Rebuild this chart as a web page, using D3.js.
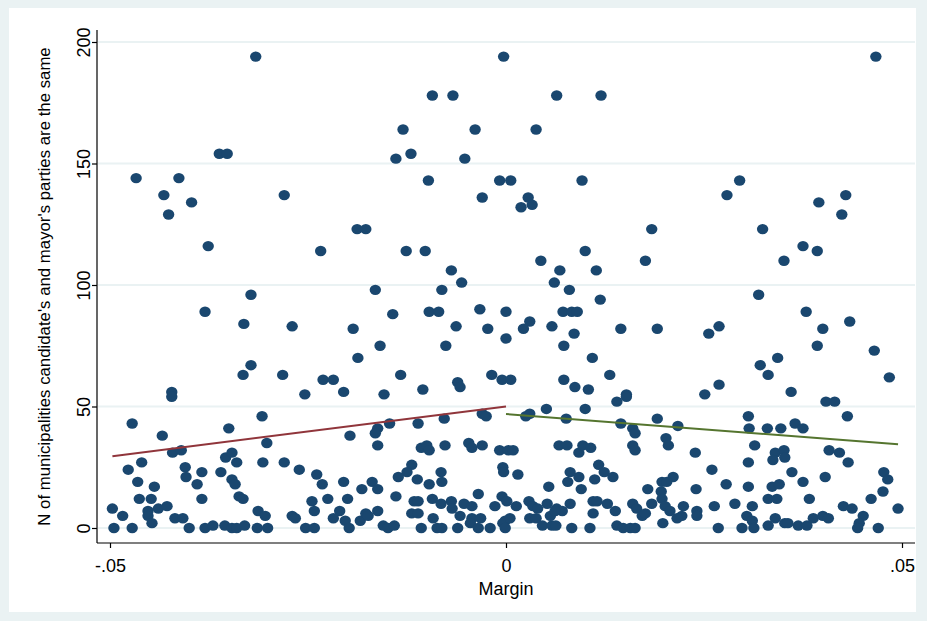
<!DOCTYPE html>
<html>
<head>
<meta charset="utf-8">
<script src="https://cdn.jsdelivr.net/npm/d3@7"></script>
<style>
  html, body { margin: 0; padding: 0; background: #fff; }
  svg { display: block; }
  text { font-family: "Liberation Sans", Arial, Helvetica, sans-serif; fill: #000; }
</style>
</head>
<body>
<svg id="chart" width="927" height="621"></svg>
<script>
// ---- Data (margin, N of municipalities with same party) ----
const leftSide = [
  [-0.0316,194],[-0.0003,194],[-0.0093,178],[-0.0067,178],[-0.0130,164],[-0.0039,164],[-0.0362,154],[-0.0352,154],
  [-0.0120,154],[-0.0139,152],[-0.0052,152],[-0.0467,144],[-0.0413,144],[-0.0098,143],[-0.0008,143],[-0.0432,137],
  [-0.0280,137],[-0.0030,136],[-0.0397,134],[-0.0426,129],[-0.0188,123],[-0.0177,123],[-0.0376,116],[-0.0234,114],
  [-0.0126,114],[-0.0102,114],[-0.0069,106],[-0.0056,101],[-0.0165,98],[-0.0081,98],[-0.0322,96],[-0.0380,89],
  [-0.0097,89],[-0.0085,89],[-0.0143,88],[-0.0033,90],[-0.0331,84],[-0.0270,83],[-0.0063,83],[-0.0193,82],
  [-0.0023,82],[-0.0159,75],[-0.0076,75],[-0.0187,70],[-0.0322,67],[-0.0332,63],[-0.0282,63],[-0.0133,63],
  [-0.0018,63],[-0.0231,61],[-0.0218,61],[-0.0005,61],[-0.0061,60],[-0.0058,58],[-0.0105,57],[-0.0422,56],
  [-0.0205,56],[-0.0154,55],[-0.0254,55],[-0.0422,54],
  [-0.0472,43],[-0.0434,38],[-0.0421,31],[-0.0410,32],[-0.0350,41],[-0.0460,27],[-0.0477,24],[-0.0405,25],
  [-0.0404,21],[-0.0384,23],[-0.0465,19],[-0.0444,17],[-0.0390,18],[-0.0463,12],[-0.0448,12],[-0.0384,12],
  [-0.0497,8],[-0.0484,5],[-0.0452,7],[-0.0439,8],[-0.0428,9],[-0.0452,5],[-0.0447,2],[-0.0418,4],
  [-0.0408,4],[-0.0495,0],[-0.0472,0],[-0.0400,0],[-0.0380,0],[-0.0370,1],[-0.0355,1],[-0.0346,0],
  [-0.0354,29],[-0.0346,31],[-0.0360,23],[-0.0346,20],[-0.0342,18],[-0.0340,27],[-0.0337,13],[-0.0332,12],
  [-0.0308,46],[-0.0302,35],[-0.0197,38],[-0.0307,27],[-0.0280,27],[-0.0261,24],[-0.0239,22],[-0.0232,18],
  [-0.0205,19],[-0.0182,16],[-0.0245,11],[-0.0225,12],[-0.0200,12],[-0.0313,7],[-0.0304,5],[-0.0270,5],
  [-0.0266,4],[-0.0242,7],[-0.0210,7],[-0.0218,4],[-0.0203,3],[-0.0198,0],[-0.0184,3],[-0.0177,6],
  [-0.0340,0],[-0.0330,1],[-0.0314,0],[-0.0301,0],[-0.0253,0],[-0.0242,0],
  [-0.0147,43],[-0.0162,41],[-0.0165,39],[-0.0111,43],[-0.0078,45],[-0.0030,47],[-0.0025,46],[-0.0162,34],
  [-0.0107,33],[-0.0100,34],[-0.0097,32],[-0.0077,34],[-0.0047,35],[-0.0043,33],[-0.0030,34],[-0.0008,32],
  [-0.0119,26],[-0.0125,23],[-0.0136,21],[-0.0112,20],[-0.0082,23],[-0.0081,19],[-0.0097,18],[-0.0169,19],
  [-0.0162,16],[-0.0004,25],[-0.0003,23],[-0.0139,13],[-0.0116,11],[-0.0111,11],[-0.0093,12],[-0.0082,10],
  [-0.0069,11],[-0.0068,8],[-0.0053,10],[-0.0043,9],[-0.0035,14],[-0.0014,9],[-0.0005,13],[-0.0162,7],
  [-0.0174,5],[-0.0119,6],[-0.0111,6],[-0.0092,4],[-0.0058,5],[-0.0043,4],[-0.0032,4],[-0.0001,3],
  [-0.0155,1],[-0.0149,0],[-0.0141,1],[-0.0107,0],[-0.0087,0],[-0.0081,0],[-0.0061,0],[-0.0045,2],
  [-0.0035,0],[-0.0020,0],[-0.0004,2],[-0.0001,0]
];
const rightSide = [
  [0.0467,194],[0.0064,178],[0.0120,178],[0.0038,164],[0.0006,143],[0.0096,143],[0.0295,143],[0.0279,137],
  [0.0429,137],[0.0028,136],[0.0019,132],[0.0033,133],[0.0395,134],[0.0424,129],[0.0184,123],[0.0324,123],
  [0.0375,116],[0.0100,114],[0.0393,114],[0.0044,110],[0.0176,110],[0.0351,110],[0.0068,106],[0.0114,106],
  [0.0061,101],[0.0080,98],[0.0319,96],[0.0119,94],[0.0000,89],[0.0072,89],[0.0083,89],[0.0090,89],
  [0.0379,89],[0.0030,85],[0.0434,85],[0.0058,83],[0.0269,83],[0.0022,82],[0.0145,82],[0.0191,82],
  [0.0400,82],[0.0086,80],[0.0256,80],[0.0000,78],[0.0073,75],[0.0393,75],[0.0465,73],[0.0109,70],
  [0.0343,70],[0.0321,67],[0.0131,63],[0.0331,63],[0.0484,62],[0.0006,61],[0.0073,61],[0.0269,59],
  [0.0087,58],[0.0104,57],[0.0360,56],[0.0152,55],[0.0251,55],
  [0.0003,32],[0.0140,52],[0.0152,54],[0.0051,49],[0.0100,49],[0.0025,46],[0.0030,47],[0.0076,45],
  [0.0145,43],[0.0160,41],[0.0163,39],[0.0009,32],[0.0067,34],[0.0077,34],[0.0092,31],[0.0097,34],
  [0.0107,33],[0.0160,34],[0.0163,32],[0.0015,22],[0.0081,23],[0.0117,26],[0.0124,23],[0.0135,21],
  [0.0092,21],[0.0078,19],[0.0112,20],[0.0095,16],[0.0054,17],[0.0001,11],[0.0013,9],[0.0029,11],
  [0.0034,9],[0.0040,8],[0.0052,10],[0.0064,8],[0.0071,7],[0.0081,10],[0.0110,11],[0.0115,11],
  [0.0110,6],[0.0128,10],[0.0138,7],[0.0160,10],[0.0165,8],[0.0005,4],[0.0030,4],[0.0038,4],
  [0.0046,1],[0.0056,5],[0.0062,7],[0.0058,1],[0.0063,1],[0.0083,0],[0.0106,0],[0.0140,1],
  [0.0148,0],[0.0157,0],[0.0163,0],
  [0.0191,45],[0.0217,42],[0.0306,46],[0.0307,41],[0.0330,41],[0.0202,37],[0.0205,34],[0.0314,34],
  [0.0239,31],[0.0306,27],[0.0340,31],[0.0337,28],[0.0260,24],[0.0211,21],[0.0197,19],[0.0203,19],
  [0.0278,18],[0.0179,16],[0.0240,16],[0.0196,15],[0.0197,12],[0.0306,17],[0.0336,17],[0.0331,12],
  [0.0184,10],[0.0263,9],[0.0289,10],[0.0201,9],[0.0207,7],[0.0224,9],[0.0222,5],[0.0241,7],
  [0.0241,5],[0.0311,9],[0.0304,5],[0.0311,3],[0.0172,5],[0.0176,6],[0.0216,4],[0.0198,2],
  [0.0268,0],[0.0298,0],[0.0313,0],[0.0331,1],[0.0340,4],
  [0.0404,52],[0.0415,52],[0.0431,46],[0.0365,43],[0.0375,41],[0.0347,41],[0.0351,32],[0.0352,29],
  [0.0408,32],[0.0421,31],[0.0432,27],[0.0361,23],[0.0345,18],[0.0375,19],[0.0403,21],[0.0477,23],
  [0.0482,20],[0.0476,15],[0.0461,12],[0.0383,12],[0.0342,12],[0.0426,9],[0.0437,8],[0.0495,8],
  [0.0451,5],[0.0446,2],[0.0444,0],[0.0352,2],[0.0356,2],[0.0369,1],[0.0380,1],[0.0388,4],
  [0.0400,5],[0.0407,4],[0.0470,0]
];
// linear fits on each side of the threshold: [intercept, slope]
const leftFit = [50.0, 412];
const rightFit = [46.9, -251];
const xTicks = [-0.05, 0, 0.05];
const xTickLabels = ["-.05", "0", ".05"];
const yTicks = [0, 50, 100, 150, 200];
const xTitle = "Margin";
const yTitle = "N of municipalities candidate's and mayor's parties are the same";

// ---- Drawing ----
const W = 927, H = 621;
const svg = d3.select("#chart");
svg.append("rect").attr("width", W).attr("height", H).attr("fill", "#eaf2f3");
svg.append("rect").attr("x", 9).attr("y", 8).attr("width", 907).attr("height", 604).attr("fill", "#ffffff");

const x = d3.scaleLinear().domain([-0.05, 0.05]).range([110, 902]);
const y = d3.scaleLinear().domain([0, 200]).range([528, 42]);
const plotL = 97, plotR = 915, plotT = 30, plotB = 543;

// gridlines
svg.append("g").selectAll("line").data(yTicks).join("line")
  .attr("x1", plotL + 1).attr("x2", plotR)
  .attr("y1", d => y(d)).attr("y2", d => y(d))
  .attr("stroke", "#eaf2f3").attr("stroke-width", 2);

// axes
const yAxis = d3.axisLeft(y).tickValues(yTicks).tickSize(5).tickFormat(d3.format("d"));
const gy = svg.append("g").attr("transform", `translate(${plotL},0)`).call(yAxis);
gy.select(".domain").attr("d", `M0,${plotT}V${plotB}`).attr("stroke", "#000").attr("stroke-width", 1.2);
gy.selectAll(".tick line").attr("stroke", "#000").attr("stroke-width", 1.2);
gy.selectAll(".tick text")
  .attr("x", null).attr("dy", null)
  .attr("transform", "translate(-7,0) rotate(-90)")
  .attr("text-anchor", "middle")
  .attr("font-size", 18)
  .attr("font-family", "Liberation Sans, Arial, sans-serif")
  .attr("fill", "#000");

const xAxis = d3.axisBottom(x).tickValues(xTicks).tickSize(5).tickFormat((d, i) => xTickLabels[i]);
const gx = svg.append("g").attr("transform", `translate(0,${plotB})`).call(xAxis);
gx.select(".domain").attr("d", `M${plotL},0H${plotR}`).attr("stroke", "#000").attr("stroke-width", 1.2);
gx.selectAll(".tick line").attr("stroke", "#000").attr("stroke-width", 1.2);
gx.selectAll(".tick text")
  .attr("y", 29).attr("dy", null)
  .attr("font-size", 18)
  .attr("font-family", "Liberation Sans, Arial, sans-serif")
  .attr("fill", "#000");

// titles
svg.append("text").attr("x", x(0)).attr("y", 595).attr("text-anchor", "middle")
  .attr("font-size", 18).text(xTitle);
svg.append("text").attr("transform", `translate(50,${(plotT + plotB) / 2}) rotate(-90)`)
  .attr("text-anchor", "middle").attr("font-size", 16.8).text(yTitle);

// points
const pts = leftSide.concat(rightSide);
svg.append("g").selectAll("ellipse").data(pts).join("ellipse")
  .attr("cx", d => x(d[0])).attr("cy", d => y(d[1]))
  .attr("rx", 5.7).attr("ry", 5.2)
  .attr("fill", "#1a476f");

// fit lines
const line = d3.line().x(d => x(d[0])).y(d => y(d[1]));
const lExt = d3.extent(leftSide, d => d[0]);
const rExt = d3.extent(rightSide, d => d[0]);
const leftLine = [lExt[0], 0].map(m => [m, leftFit[0] + leftFit[1] * m]);
const rightLine = [0, rExt[1]].map(m => [m, rightFit[0] + rightFit[1] * m]);
svg.append("path").datum(leftLine).attr("d", line).attr("fill", "none")
  .attr("stroke", "#90353b").attr("stroke-width", 2);
svg.append("path").datum(rightLine).attr("d", line).attr("fill", "none")
  .attr("stroke", "#55752f").attr("stroke-width", 2);
</script>
</body>
</html>
